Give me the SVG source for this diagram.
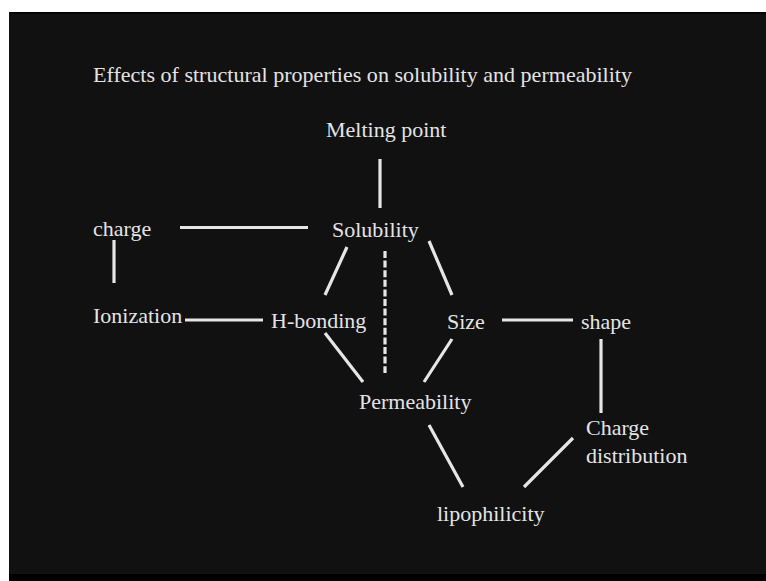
<svg xmlns="http://www.w3.org/2000/svg" width="766" height="581" viewBox="0 0 766 581">
<style>
.t{font-family:"Liberation Serif","Times New Roman",serif;font-size:22px;fill:#e4e4e4}
.c line{stroke:#e6e6e6;stroke-width:3.2;stroke-linecap:butt}
.d{stroke-dasharray:7 2.6}
</style>
<rect x="0" y="0" width="766" height="581" fill="#ffffff"/>
<rect x="9" y="12" width="757" height="569" fill="#111111"/>
<rect x="9" y="12" width="757" height="1.5" fill="#000000"/>
<rect x="9" y="574" width="757" height="7" fill="#000000"/>
<text class="t" x="93" y="82" textLength="539" lengthAdjust="spacingAndGlyphs">Effects of structural properties on solubility and permeability</text>
<g class="c" id="connectors">
<line x1="380" y1="159" x2="380" y2="208"/>
<line x1="180" y1="227.5" x2="308" y2="227.5"/>
<line x1="114" y1="240" x2="114" y2="283"/>
<line x1="185" y1="320" x2="263" y2="320"/>
<line x1="347" y1="247" x2="325" y2="295"/>
<line class="d" x1="385" y1="251" x2="385" y2="373"/>
<line x1="429" y1="241" x2="452" y2="295"/>
<line x1="325" y1="333" x2="363" y2="382"/>
<line x1="452" y1="339" x2="424" y2="382"/>
<line x1="502" y1="320" x2="573" y2="320"/>
<line x1="601" y1="339" x2="601" y2="413"/>
<line x1="429" y1="425" x2="463" y2="487"/>
<line x1="573" y1="438" x2="524" y2="487"/>
</g>
<g id="melting"><text class="t" x="326" y="137">Melting point</text></g>
<g id="charge"><text class="t" x="93" y="236">charge</text></g>
<g id="solubility"><text class="t" x="332" y="237">Solubility</text></g>
<g id="ionization"><text class="t" x="93" y="323">Ionization</text></g>
<g id="hbonding"><text class="t" x="271" y="328">H-bonding</text></g>
<g id="size"><text class="t" x="447" y="329">Size</text></g>
<g id="shape"><text class="t" x="581" y="329">shape</text></g>
<g id="permeability"><text class="t" x="359" y="409">Permeability</text></g>
<g id="chargedist"><text class="t" x="586" y="435">Charge</text><text class="t" x="586" y="463">distribution</text></g>
<g id="lipophilicity"><text class="t" x="437" y="521">lipophilicity</text></g>
</svg>
